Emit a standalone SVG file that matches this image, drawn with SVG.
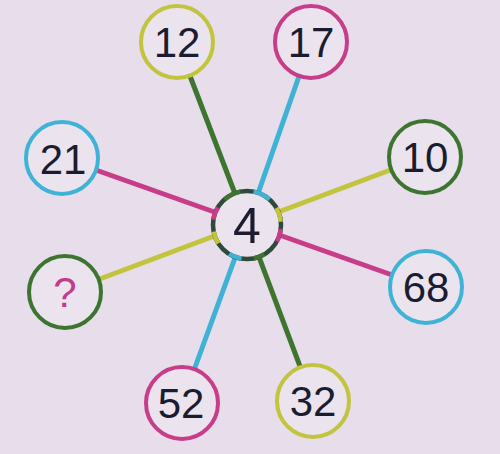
<svg xmlns="http://www.w3.org/2000/svg" width="500" height="454" viewBox="0 0 500 454">
<style>
.ln{stroke-width:5;stroke-linecap:round;fill:none}
.nd{fill:#ebe4ef;stroke-width:4}
.t{font-family:"Liberation Sans",Arial,sans-serif;font-size:42px;fill:#1c1c30;text-anchor:middle}
.g{stroke:#3d7530}.c{stroke:#3fb3d6}.m{stroke:#c83d8a}.y{stroke:#c2c43e}
.arc{fill:none;stroke-width:4.5}
</style>
<rect width="500" height="454" fill="#e7ddeb"/>
<g id="connectors">
<line class="ln g" x1="177" y1="42" x2="247" y2="225"/>
<line class="ln g" x1="313" y1="401" x2="247" y2="225"/>
<line class="ln c" x1="311" y1="42" x2="247" y2="225"/>
<line class="ln c" x1="182" y1="403" x2="247" y2="225"/>
<line class="ln m" x1="62" y1="158" x2="426" y2="287"/>
<line class="ln y" x1="65" y1="292" x2="425" y2="157"/>
</g>
<g id="n12"><circle class="nd y" cx="177" cy="42" r="36"/><text class="t" x="177" y="57">12</text></g>
<g id="n17"><circle class="nd m" cx="311" cy="42" r="36"/><text class="t" x="311" y="57">17</text></g>
<g id="n21"><circle class="nd c" cx="62" cy="158" r="36"/><text class="t" x="63" y="174">21</text></g>
<g id="n10"><circle class="nd g" cx="425" cy="157" r="36"/><text class="t" x="425" y="172">10</text></g>
<g id="nq"><circle class="nd g" cx="65" cy="292" r="36"/><text class="t" x="65" y="307" style="fill:#c23a8a">?</text></g>
<g id="n68"><circle class="nd c" cx="426" cy="287" r="36"/><text class="t" x="426" y="302">68</text></g>
<g id="n52"><circle class="nd m" cx="182" cy="403" r="36"/><text class="t" x="181" y="418">52</text></g>
<g id="n32"><circle class="nd y" cx="313" cy="401" r="36"/><text class="t" x="313" y="416">32</text></g>
<g id="center">
<circle cx="247" cy="225" r="34" fill="#ebe4ef" stroke="#2f4a3a" stroke-width="4.5"/>
<path class="arc g" d="M 224.5 199.5 A 34 34 0 0 1 240.5 191.6"/>
<path class="arc c" d="M 253.5 191.6 A 34 34 0 0 1 269.5 199.5"/>
<path class="arc y" d="M 276.4 207.9 A 34 34 0 0 1 280.7 221.7"/>
<path class="arc m" d="M 280.8 228.9 A 34 34 0 0 1 276.9 241.4"/>
<path class="arc g" d="M 264.3 254.3 A 34 34 0 0 1 253.9 258.3"/>
<path class="arc c" d="M 241.5 258.6 A 34 34 0 0 1 229.2 253.9"/>
<path class="arc y" d="M 218.4 243.4 A 34 34 0 0 1 213.7 231.6"/>
<path class="arc m" d="M 213.2 219.7 A 34 34 0 0 1 217.8 207.5"/>
<text class="t" x="247" y="243" style="font-size:50px">4</text>
</g>
</svg>
